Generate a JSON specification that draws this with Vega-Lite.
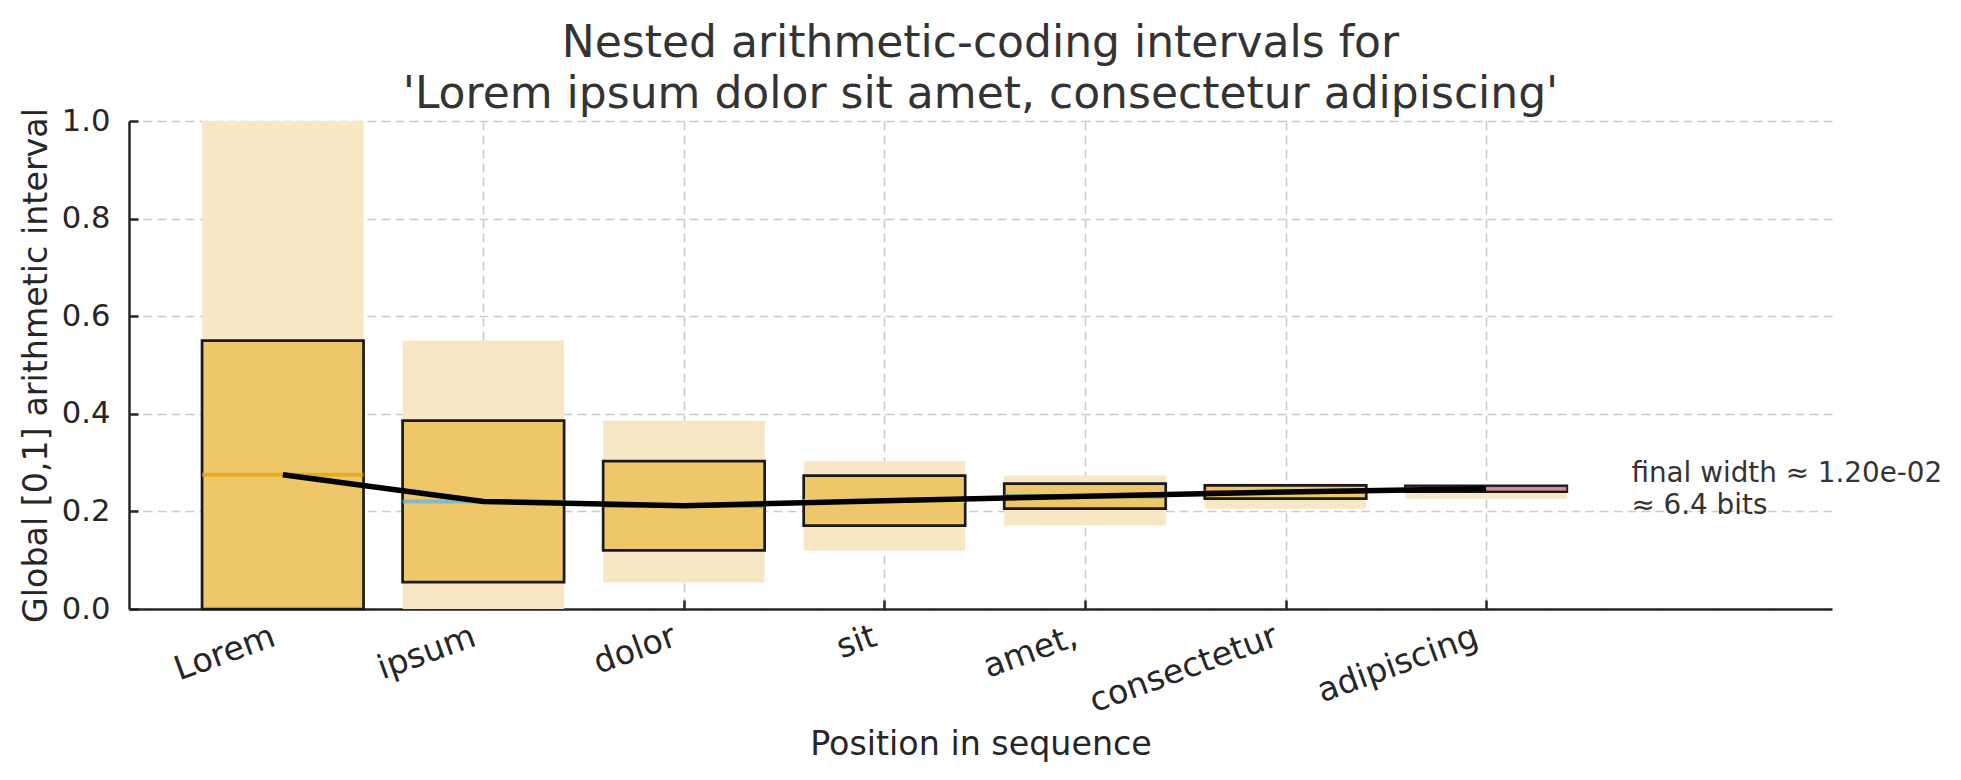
{
  "$schema": "https://vega.github.io/schema/vega-lite/v6.json",
  "autosize": "none",
  "width": 1703,
  "height": 488,
  "padding": {"left": 129, "top": 121, "right": 129, "bottom": 171},
  "background": "white",
  "title": {
    "text": ["Nested arithmetic-coding intervals for", "'Lorem ipsum dolor sit amet, consectetur adipiscing'"],
    "font": "DejaVu Sans",
    "fontSize": 44,
    "fontWeight": "normal",
    "color": "#333333",
    "lineHeight": 51,
    "offset": -11,
    "anchor": "middle"
  },
  "config": {
    "view": {"stroke": null},
    "axis": {
      "domainColor": "#262626",
      "domainWidth": 2.5,
      "tickColor": "#262626",
      "tickWidth": 2.5,
      "tickSize": -9,
      "gridColor": "#cccccc",
      "gridDash": [9, 5],
      "gridWidth": 1.6,
      "labelFont": "DejaVu Sans",
      "labelFontSize": 30.6,
      "labelColor": "#262626",
      "labelLimit": 0,
      "titleFont": "DejaVu Sans",
      "titleFontSize": 33.3,
      "titleFontWeight": "normal",
      "titleColor": "#262626",
      "zindex": 1
    }
  },
  "datasets": {
    "steps": [
      {"i": 0, "token": "Lorem", "lo": 0, "hi": 0.55, "plo": 0, "phi": 1, "mid": 0.275},
      {"i": 1, "token": "ipsum", "lo": 0.055, "hi": 0.386, "plo": 0, "phi": 0.55, "mid": 0.2205},
      {"i": 2, "token": "dolor", "lo": 0.12, "hi": 0.303, "plo": 0.055, "phi": 0.386, "mid": 0.2115},
      {"i": 3, "token": "sit", "lo": 0.171, "hi": 0.2735, "plo": 0.12, "phi": 0.303, "mid": 0.222},
      {"i": 4, "token": "amet,", "lo": 0.2055, "hi": 0.257, "plo": 0.171, "phi": 0.2735, "mid": 0.231},
      {"i": 5, "token": "consectetur", "lo": 0.226, "hi": 0.2535, "plo": 0.2055, "phi": 0.257, "mid": 0.2398},
      {"i": 6, "token": "adipiscing", "lo": 0.2405, "hi": 0.2525, "plo": 0.226, "phi": 0.2535, "mid": 0.2465}
    ],
    "note": [
      {"x": 6.7, "y": 0.2465, "label": "final width ≈ 1.20e-02\n≈ 6.4 bits"}
    ]
  },
  "layer": [
    {
      "data": {"name": "steps"},
      "mark": {"type": "bar", "size": 161.5, "color": "#f8e7c4", "stroke": null},
      "encoding": {
        "x": {
          "field": "i", "type": "quantitative",
          "scale": {"domain": [-0.742, 7.7], "nice": false, "zero": false},
          "axis": {
            "values": [0, 1, 2, 3, 4, 5, 6],
            "labelExpr": "['Lorem','ipsum','dolor','sit','amet,','consectetur','adipiscing'][datum.value]",
            "labelAngle": -20,
            "labelAlign": "right",
            "labelBaseline": "top",
            "labelFontSize": 33.3,
            "labelPadding": 20,
            "labelOffset": -15,
            "title": "Position in sequence",
            "titlePadding": 11
          }
        },
        "y": {
          "field": "plo", "type": "quantitative",
          "scale": {"domain": [0, 1], "nice": false, "zero": false},
          "axis": {
            "values": [0, 0.2, 0.4, 0.6, 0.8, 1.0],
            "format": ".1f",
            "labelPadding": 28,
            "title": "Global [0,1] arithmetic interval",
            "titlePadding": 8
          }
        },
        "y2": {"field": "phi"}
      }
    },
    {
      "data": {"name": "steps"},
      "mark": {"type": "bar", "size": 161.5, "color": "#eec76b", "stroke": "#1a1a1a", "strokeWidth": 2.7},
      "encoding": {
        "x": {"field": "i", "type": "quantitative"},
        "y": {"field": "lo", "type": "quantitative"},
        "y2": {"field": "hi"}
      }
    },
    {
      "data": {"name": "steps"},
      "mark": {"type": "tick", "orient": "horizontal", "size": 161.5, "thickness": 4},
      "encoding": {
        "x": {"field": "i", "type": "quantitative"},
        "y": {"field": "mid", "type": "quantitative"},
        "color": {
          "field": "token", "type": "nominal",
          "scale": {
            "domain": ["Lorem", "ipsum", "dolor", "sit", "amet,", "consectetur", "adipiscing"],
            "range": ["#E69F00", "#56B4E9", "#009E73", "#F0E442", "#0072B2", "#D55E00", "#CC79A7"]
          },
          "legend": null
        }
      }
    },
    {
      "data": {"name": "steps"},
      "mark": {"type": "line", "color": "black", "strokeWidth": 5.5},
      "encoding": {
        "x": {"field": "i", "type": "quantitative"},
        "y": {"field": "mid", "type": "quantitative"}
      }
    },
    {
      "data": {"name": "note"},
      "mark": {"type": "text", "align": "left", "baseline": "middle", "font": "DejaVu Sans", "fontSize": 27.8, "color": "#333333", "lineBreak": "\n", "lineHeight": 32, "dx": 5, "dy": -15},
      "encoding": {
        "x": {"field": "x", "type": "quantitative"},
        "y": {"field": "y", "type": "quantitative"},
        "text": {"field": "label"}
      }
    }
  ]
}
